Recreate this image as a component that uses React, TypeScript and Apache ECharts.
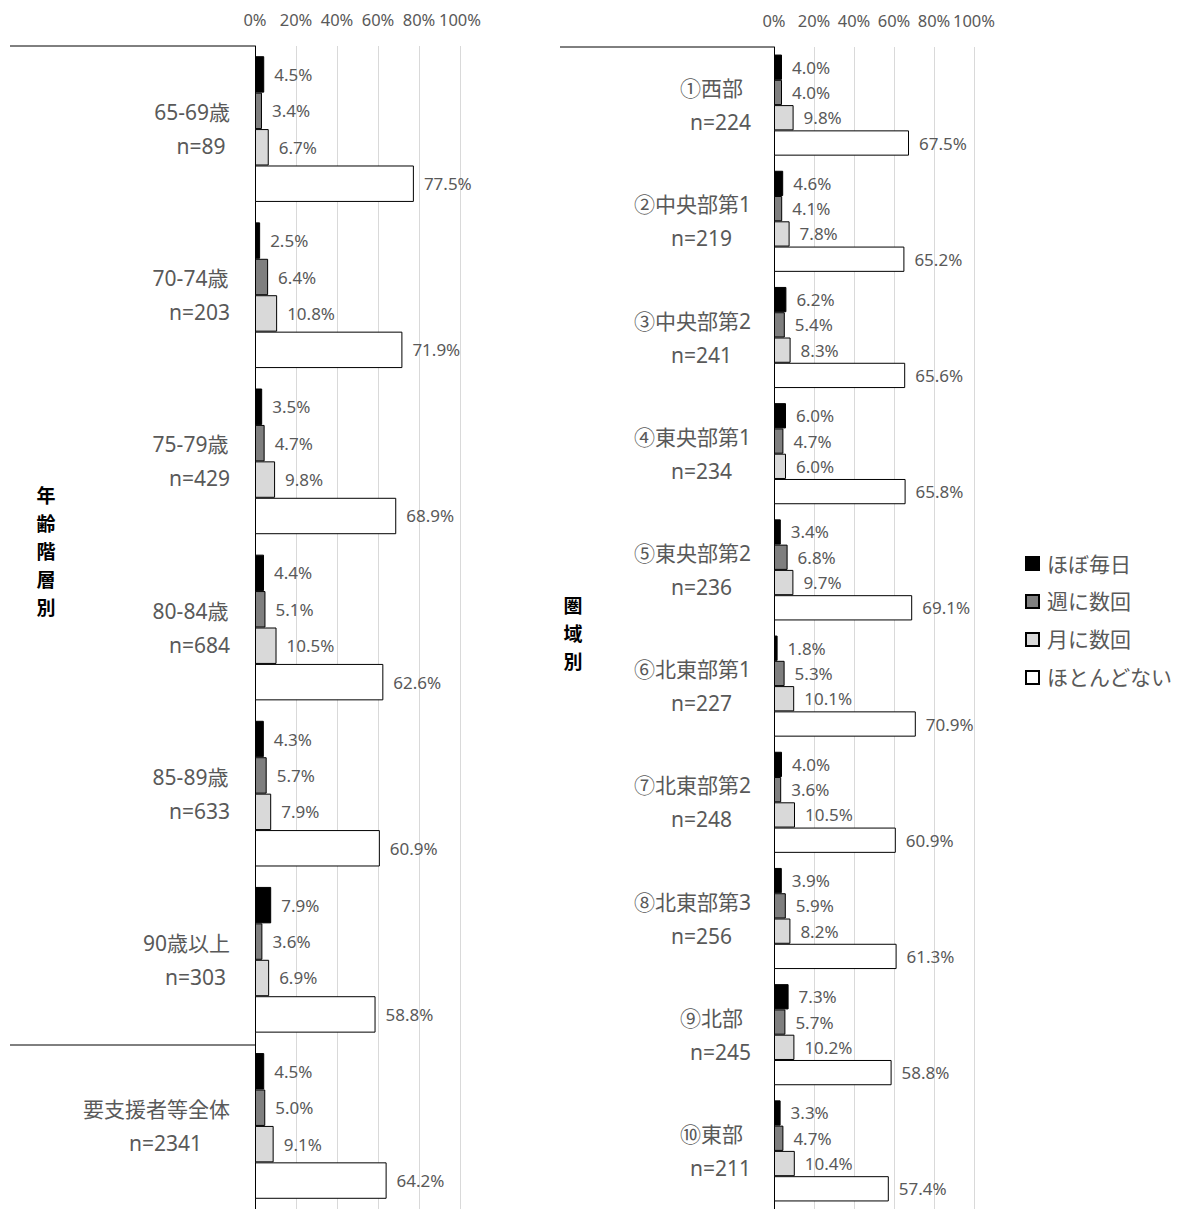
import React, { useEffect, useRef } from 'react';
import * as echarts from 'echarts';

const seriesNames = ['ほぼ毎日', '週に数回', '月に数回', 'ほとんどない'];
const seriesColors = ['#000000', '#7f7f7f', '#d9d9d9', '#ffffff'];

const ageCats = ['65-69歳', '70-74歳', '75-79歳', '80-84歳', '85-89歳', '90歳以上', '要支援者等全体'];
const ageN = [89, 203, 429, 684, 633, 303, 2341];
const ageDaily = [4.5, 2.5, 3.5, 4.4, 4.3, 7.9, 4.5];
const ageWeekly = [3.4, 6.4, 4.7, 5.1, 5.7, 3.6, 5.0];
const ageMonthly = [6.7, 10.8, 9.8, 10.5, 7.9, 6.9, 9.1];
const ageRarely = [77.5, 71.9, 68.9, 62.6, 60.9, 58.8, 64.2];

const areaCats = ['①西部', '②中央部第1', '③中央部第2', '④東央部第1', '⑤東央部第2', '⑥北東部第1', '⑦北東部第2', '⑧北東部第3', '⑨北部', '⑩東部'];
const areaN = [224, 219, 241, 234, 236, 227, 248, 256, 245, 211];
const areaDaily = [4.0, 4.6, 6.2, 6.0, 3.4, 1.8, 4.0, 3.9, 7.3, 3.3];
const areaWeekly = [4.0, 4.1, 5.4, 4.7, 6.8, 5.3, 3.6, 5.9, 5.7, 4.7];
const areaMonthly = [9.8, 7.8, 8.3, 6.0, 9.7, 10.1, 10.5, 8.2, 10.2, 10.4];
const areaRarely = [67.5, 65.2, 65.6, 65.8, 69.1, 70.9, 60.9, 61.3, 58.8, 57.4];

const xTicks = [0, 20, 40, 60, 80, 100];

const FONT = "'Noto Sans', 'Noto Sans CJK JP', sans-serif";
const GRAY = '#595959';

export default function App() {
  const ref = useRef<HTMLDivElement>(null);
  useEffect(() => {
    const chart = echarts.init(ref.current!, null, { renderer: 'svg' });
    const xAxis = (gridIndex: number) => ({
      gridIndex,
      type: 'value',
      position: 'top',
      min: xTicks[0],
      max: xTicks[xTicks.length - 1],
      interval: xTicks[1] - xTicks[0],
      axisLine: { show: false },
      axisTick: { show: false },
      axisLabel: { formatter: '{value}%', color: GRAY, fontSize: 16.5, margin: 18, fontFamily: FONT },
      splitLine: { lineStyle: { color: '#d9d9d9', width: 1 } },
    });
    const yAxis = (gridIndex: number, cats: string[], ns: number[], margin: number) => ({
      gridIndex,
      type: 'category',
      inverse: true,
      data: cats,
      axisLine: { lineStyle: { color: '#000', width: 1 } },
      axisTick: { show: false },
      axisLabel: {
        margin,
        interval: 0,
        formatter: (v: string, i: number) => `{a|${v}}\n{b|n=${ns[i]}}`,
        rich: {
          a: { fontSize: 21, color: GRAY, fontFamily: FONT, align: 'center', lineHeight: 34 },
          b: { fontSize: 21, color: GRAY, fontFamily: FONT, align: 'center', lineHeight: 34, padding: [0, 0, 0, 18] },
        },
      },
    });
    const mk = (idx: number, data: number[], k: number, gap: string) => ({
      type: 'bar',
      name: seriesNames[k],
      xAxisIndex: idx,
      yAxisIndex: idx,
      data,
      barGap: '0%',
      barCategoryGap: gap,
      itemStyle: { color: seriesColors[k], borderColor: '#000', borderWidth: 1 },
      label: {
        show: true,
        position: 'right',
        distance: 10,
        color: GRAY,
        fontSize: 17,
        fontFamily: FONT,
        formatter: (p: any) => `${Number(p.value).toFixed(1)}%`,
      },
    });
    const ageSets = [ageDaily, ageWeekly, ageMonthly, ageRarely];
    const areaSets = [areaDaily, areaWeekly, areaMonthly, areaRarely];
    chart.setOption({
      animation: false,
      textStyle: { fontFamily: FONT },
      grid: [
        { left: 255, top: 46, width: 205, height: 1165 },
        { left: 774, top: 47, width: 200, height: 1163 },
      ],
      xAxis: [xAxis(0), xAxis(1)],
      yAxis: [yAxis(0, ageCats, ageN, 25), yAxis(1, areaCats, areaN, 23)],
      legend: {
        orient: 'vertical',
        left: 1020,
        top: 548,
        itemWidth: 13,
        itemHeight: 13,
        itemGap: 17,
        icon: 'rect',
        data: seriesNames,
        textStyle: { color: GRAY, fontSize: 21, fontFamily: FONT, padding: [0, 0, 0, 3] },
      },
      series: [
        ...ageSets.map((d, k) => mk(0, d, k, '12.3%')),
        ...areaSets.map((d, k) => mk(1, d, k, '13%')),
      ],
      graphic: [
        { type: 'line', shape: { x1: 10, y1: 46, x2: 255, y2: 46 }, style: { stroke: '#000', lineWidth: 1 } },
        { type: 'line', shape: { x1: 10, y1: 1045, x2: 255, y2: 1045 }, style: { stroke: '#000', lineWidth: 1 } },
        { type: 'line', shape: { x1: 560, y1: 47, x2: 774, y2: 47 }, style: { stroke: '#000', lineWidth: 1 } },
        {
          type: 'text', x: 46, y: 552,
          style: { text: '年\n齢\n階\n層\n別', fill: '#000', fontSize: 19, fontWeight: 'bold', fontFamily: FONT, lineHeight: 28, textAlign: 'center', textVerticalAlign: 'middle' },
        },
        {
          type: 'text', x: 573, y: 634,
          style: { text: '圏\n域\n別', fill: '#000', fontSize: 19, fontWeight: 'bold', fontFamily: FONT, lineHeight: 28, textAlign: 'center', textVerticalAlign: 'middle' },
        },
      ],
    });
    return () => chart.dispose();
  }, []);
  return <div ref={ref} style={{ position: 'absolute', left: 0, top: 0, width: 1179, height: 1209 }} />;
}
